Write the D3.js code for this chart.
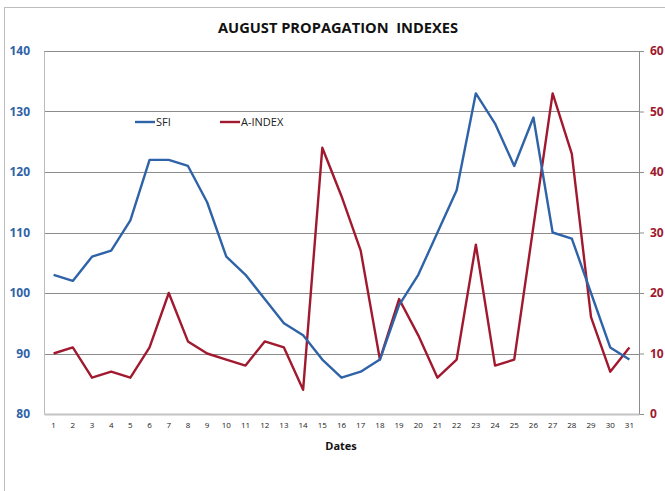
<!DOCTYPE html>
<html>
<head>
<meta charset="utf-8">
<script src="https://cdn.jsdelivr.net/npm/d3@7"></script>
<style>
  body { margin: 0; background: #fff; }
  text { font-family: "Open Sans", "Liberation Sans", sans-serif; }
</style>
</head>
<body>
<div id="chart"></div>
<script>
// data
const dates = d3.range(1, 32);
const sfi = [103, 102, 106, 107, 112, 122, 122, 121, 115, 106, 103, 99, 95, 93, 89, 86, 87, 89, 98, 103, 110, 117, 133, 128, 121, 129, 110, 109, 100, 91, 89];
const aIndex = [10, 11, 6, 7, 6, 11, 20, 12, 10, 9, 8, 12, 11, 4, 44, 36, 27, 9, 19, 13, 6, 9, 28, 8, 9, 31, 53, 43, 16, 7, 11];
const leftTicks = [80, 90, 100, 110, 120, 130, 140];
const rightTicks = [0, 10, 20, 30, 40, 50, 60];

const config = {
    width: 665,
    height: 491,
    margin: { top: 51, right: 26, bottom: 77, left: 44 }
};
const blue = '#2f63a8';
const red = '#a0192e';

const svg = d3.select('#chart').append('svg')
    .attr('width', config.width)
    .attr('height', config.height);

// outer chart frame (runs off the right and bottom edge)
svg.append('rect')
    .attr('x', 4.5).attr('y', 7.5)
    .attr('width', 700).attr('height', 600)
    .attr('fill', 'none')
    .attr('stroke', '#bdbdbd');

const w = config.width - config.margin.left - config.margin.right;
const h = config.height - config.margin.top - config.margin.bottom;

const chart = svg.append('g')
    .attr('transform', `translate(${config.margin.left},${config.margin.top})`);

const xScale = d3.scaleBand().domain(dates).range([0, w]);
const yLeft = d3.scaleLinear().domain([80, 140]).range([h, 0]);
const yRight = d3.scaleLinear().domain([0, 60]).range([h, 0]);

// gridlines
chart.append('g')
    .selectAll('line')
    .data(leftTicks.slice(1))
    .join('line')
    .attr('x1', 0).attr('x2', w)
    .attr('y1', d => Math.round(yLeft(d)) + 0.5)
    .attr('y2', d => Math.round(yLeft(d)) + 0.5)
    .attr('stroke', '#8c8c8c');

// left axis
const yAxisL = chart.append('g')
    .call(d3.axisLeft(yLeft).tickValues(leftTicks).tickSize(0).tickPadding(14));
yAxisL.select('.domain').attr('stroke', '#bcbcbc');
yAxisL.selectAll('text')
    .attr('fill', blue)
    .attr('font-size', 12)
    .attr('font-weight', 'bold');

// right axis
const yAxisR = chart.append('g')
    .attr('transform', `translate(${w},0)`)
    .call(d3.axisRight(yRight).tickValues(rightTicks).tickSize(5).tickSizeOuter(0).tickPadding(6));
yAxisR.select('.domain').attr('stroke', '#8c8c8c');
yAxisR.selectAll('line').attr('stroke', '#8c8c8c');
yAxisR.selectAll('text')
    .attr('fill', red)
    .attr('font-size', 12)
    .attr('font-weight', 'bold');

// bottom axis
const xAxis = chart.append('g')
    .attr('transform', `translate(0,${h})`)
    .call(d3.axisBottom(xScale).tickSize(0).tickPadding(8));
xAxis.select('.domain').attr('stroke', '#c4c4c4').attr('stroke-width', 2);
xAxis.selectAll('text')
    .attr('fill', '#222')
    .attr('font-size', 8);

// lines
const xPos = (d, i) => xScale(dates[i]) + xScale.bandwidth() / 2;

chart.append('path')
    .datum(aIndex)
    .attr('fill', 'none')
    .attr('stroke', red)
    .attr('stroke-width', 2.4)
    .attr('stroke-linejoin', 'round')
    .attr('d', d3.line().x(xPos).y(d => yRight(d)));

chart.append('path')
    .datum(sfi)
    .attr('fill', 'none')
    .attr('stroke', blue)
    .attr('stroke-width', 2.4)
    .attr('stroke-linejoin', 'round')
    .attr('d', d3.line().x(xPos).y(d => yLeft(d)));

// legend
const legend = [
    { name: 'SFI', color: blue, x: 135 },
    { name: 'A-INDEX', color: red, x: 220 }
];
const lg = svg.append('g').selectAll('g')
    .data(legend)
    .join('g')
    .attr('transform', d => `translate(${d.x},122)`);
lg.append('line')
    .attr('x1', 0).attr('x2', 20)
    .attr('stroke', d => d.color)
    .attr('stroke-width', 2.4);
lg.append('text')
    .attr('x', 21).attr('dy', '0.35em')
    .attr('font-size', 11)
    .attr('fill', '#222')
    .text(d => d.name);

// title (keeps the double space)
svg.append('text')
    .attr('x', 338).attr('y', 33)
    .attr('text-anchor', 'middle')
    .attr('font-size', 14)
    .attr('font-weight', 'bold')
    .attr('textLength', 240)
    .attr('lengthAdjust', 'spacingAndGlyphs')
    .style('white-space', 'pre')
    .attr('fill', '#111')
    .text('AUGUST PROPAGATION  INDEXES');

// x axis title
svg.append('text')
    .attr('x', 341).attr('y', 450)
    .attr('text-anchor', 'middle')
    .attr('font-size', 11)
    .attr('font-weight', 'bold')
    .attr('fill', '#111')
    .text('Dates');
</script>
</body>
</html>
